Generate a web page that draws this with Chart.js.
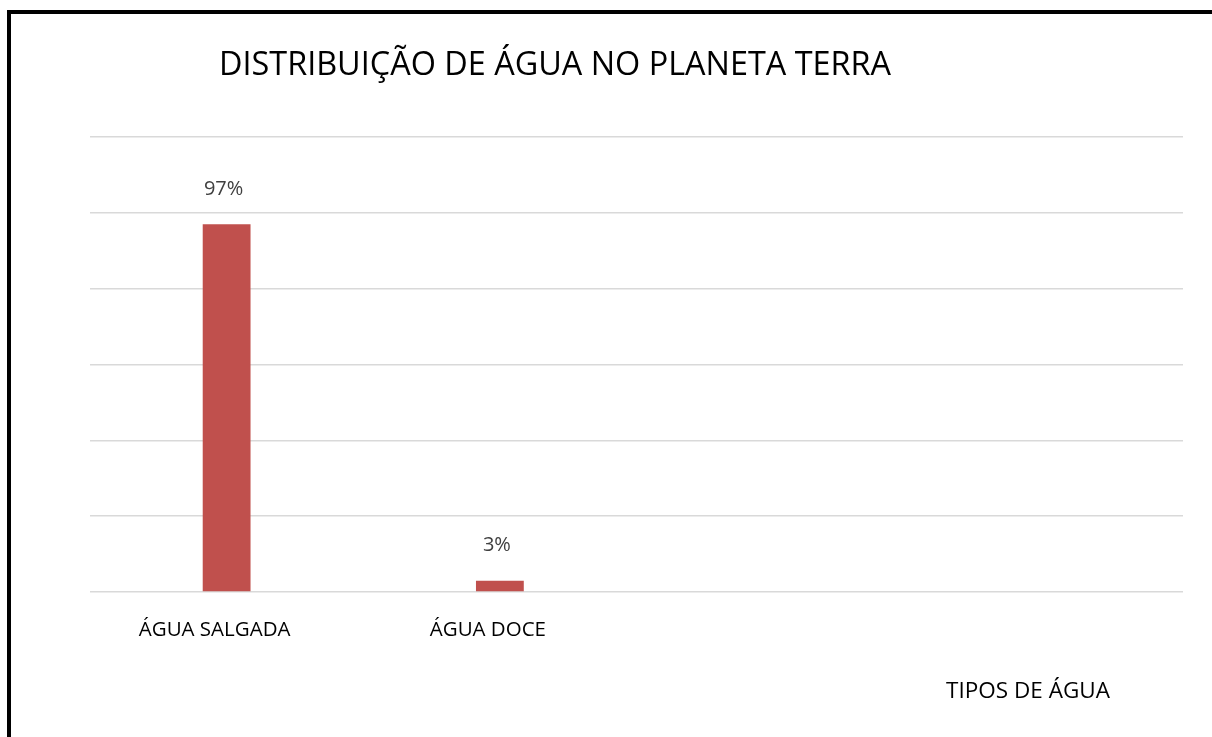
<!DOCTYPE html>
<html>
<head>
<meta charset="utf-8">
<script src="https://cdn.jsdelivr.net/npm/chart.js@4"></script>
<style>
  html, body { margin: 0; padding: 0; background: #fff; overflow: hidden; }
  #frame {
    position: absolute; left: 7px; top: 10px;
    width: 1300px; height: 800px;
    border: 4px solid #000;
  }
  #wrap { position: absolute; left: 0; top: 0; width: 1212px; height: 737px; }
</style>
</head>
<body>
<div id="frame"></div>
<div id="wrap"><canvas id="chart"></canvas></div>
<script>
const TITLE = 'DISTRIBUIÇÃO DE ÁGUA NO PLANETA TERRA';
const SERIES_NAME = 'TIPOS DE ÁGUA';
const categories = ['ÁGUA SALGADA', 'ÁGUA DOCE', '', ''];
const values = [97, 3, null, null];
const valueLabels = ['97%', '3%', '', ''];

const FONT = '"Open Sans", sans-serif';

// title, series caption and value labels drawn on top of the chart
const textPlugin = {
  id: 'texts',
  afterDraw(chart) {
    const ctx = chart.ctx;
    ctx.save();
    ctx.textBaseline = 'middle';
    ctx.textAlign = 'center';

    ctx.fillStyle = '#000';
    ctx.font = '32.4px ' + FONT;
    ctx.fillText(TITLE, 555, 66);

    ctx.font = '22.5px ' + FONT;
    ctx.fillText(SERIES_NAME, 1028, 692);

    ctx.fillStyle = '#404040';
    ctx.font = '20px ' + FONT;
    chart.getDatasetMeta(0).data.forEach((bar, i) => {
      if (values[i] == null) return;
      ctx.fillText(valueLabels[i], bar.x - 3, bar.y - 35);
    });
    ctx.restore();
  }
};

new Chart(document.getElementById('chart'), {
  type: 'bar',
  data: {
    labels: categories,
    datasets: [{
      label: SERIES_NAME,
      data: values,
      backgroundColor: '#c0504d',
      borderWidth: 0,
      categoryPercentage: 0.35,
      barPercentage: 0.5
    }]
  },
  options: {
    responsive: true,
    maintainAspectRatio: false,
    animation: false,
    layout: { padding: { left: 90, right: 29, top: 137, bottom: 0 } },
    plugins: {
      legend: { display: false },
      title: { display: false },
      tooltip: { enabled: false }
    },
    scales: {
      x: {
        grid: { display: false, drawTicks: false },
        border: { display: false },
        ticks: {
          color: '#000',
          font: { family: FONT, size: 20.5 },
          padding: 26,
          labelOffset: -12,
          maxRotation: 0
        },
        afterFit(scale) { scale.height = 145; }
      },
      y: {
        min: 0,
        max: 120,
        ticks: { display: false, stepSize: 20 },
        grid: { color: '#d9d9d9', lineWidth: 1.5, drawTicks: false },
        border: { display: false },
        afterFit(scale) { scale.width = 0; }
      }
    }
  },
  plugins: [textPlugin]
});
</script>
</body>
</html>
